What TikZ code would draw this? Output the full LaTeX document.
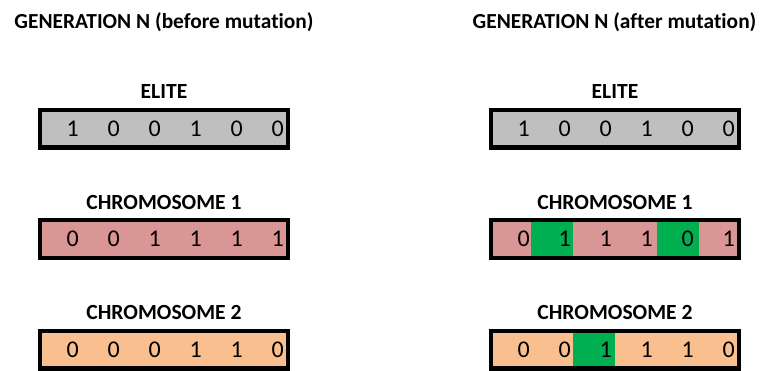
\documentclass[tikz,border=0pt]{standalone}
\usepackage{fontspec}
\setmainfont{Carlito}[Ligatures=NoCommon]
\definecolor{elitegray}{HTML}{BFBFBF}
\definecolor{chrpink}{HTML}{DA9694}
\definecolor{chrorange}{HTML}{FABF8F}
\definecolor{mutgreen}{HTML}{00B050}
\tikzset{
  cellbox/.style={rectangle, draw=none, minimum width=42pt, minimum height=42pt, inner sep=0pt, outer sep=0pt, anchor=north west},
  digit/.style={font=\fontsize{24}{28}\selectfont, inner sep=0pt, anchor=base east},
  rowlabel/.style={font=\bfseries\fontsize{21.6}{26}\selectfont, inner sep=0pt, anchor=base},
  gentitle/.style={font=\bfseries\fontsize{21.4}{26}\selectfont, inner sep=0pt, anchor=base},
  frame/.style={draw=black, line width=4.3pt}
}
\newcommand\chromrow[5]{%
  \node[rowlabel] (#1lab) at ({#2+126},{#3-9}) {#4};
  \foreach \d/\c [count=\k from 0] in {#5} {
    \node[cellbox, fill=\c] (#1c\k) at ({#2+42*\k},{#3}) {};
    \node[digit] (#1d\k) at ({#2+41+41*\k},{#3+28.5}) {\d};
  }
  \draw[frame] ([shift={(2.15pt,-2.15pt)}]#1c0.north west) rectangle ([shift={(-2.15pt,2.15pt)}]#1c5.south east);
}
\begin{document}
\begin{tikzpicture}[x=1pt,y=-1pt]
  \useasboundingbox (0,0) rectangle (762,370);
  \node[gentitle] (titleL) at (164,28.3) {GENERATION N (before mutation)};
  \node[gentitle] (titleR) at (614.5,28.3) {GENERATION N (after mutation)};
  % before mutation
  \chromrow{LA}{38}{107.5}{ELITE}{1/elitegray,0/elitegray,0/elitegray,1/elitegray,0/elitegray,0/elitegray}
  \chromrow{LB}{38}{218}{CHROMOSOME 1}{0/chrpink,0/chrpink,1/chrpink,1/chrpink,1/chrpink,1/chrpink}
  \chromrow{LC}{38}{328.5}{CHROMOSOME 2}{0/chrorange,0/chrorange,0/chrorange,1/chrorange,1/chrorange,0/chrorange}
  % after mutation
  \chromrow{RA}{489}{107.5}{ELITE}{1/elitegray,0/elitegray,0/elitegray,1/elitegray,0/elitegray,0/elitegray}
  \chromrow{RB}{489}{218}{CHROMOSOME 1}{0/chrpink,1/mutgreen,1/chrpink,1/chrpink,0/mutgreen,1/chrpink}
  \chromrow{RC}{489}{328.5}{CHROMOSOME 2}{0/chrorange,0/chrorange,1/mutgreen,1/chrorange,1/chrorange,0/chrorange}
\end{tikzpicture}
\end{document}
